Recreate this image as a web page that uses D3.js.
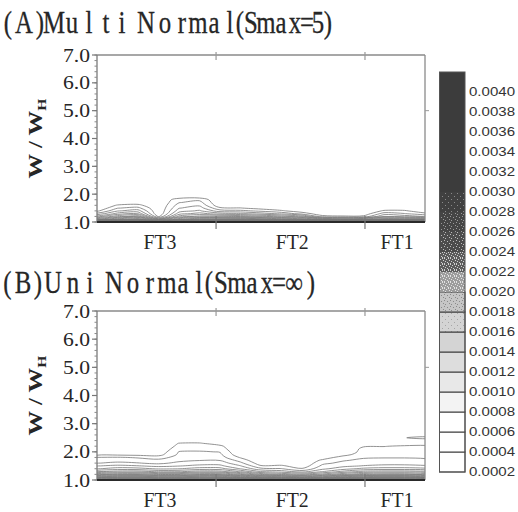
<!DOCTYPE html>
<html><head><meta charset="utf-8">
<script src="https://cdn.jsdelivr.net/npm/d3@7"></script>
<style>html,body{margin:0;padding:0;background:#fff;} svg{display:block;}</style>
</head><body><svg id="chart" width="518" height="512"></svg>
<script>
// ---------------- DATA ----------------
const levels = [0.0002,0.0004,0.0006,0.0008,0.0010,0.0012,0.0014,0.0016,0.0018,0.0020,
                0.0022,0.0024,0.0026,0.0028,0.0030,0.0032,0.0034,0.0036,0.0038,0.0040];
const colorbarLabels = ["0.0002","0.0004","0.0006","0.0008","0.0010","0.0012","0.0014","0.0016","0.0018","0.0020",
                        "0.0022","0.0024","0.0026","0.0028","0.0030","0.0032","0.0034","0.0036","0.0038","0.0040"];
const colorbarTop = 0.0042;
const yTickValues = [1,2,3,4,5,6,7];
const yTickLabels = ["1.0","2.0","3.0","4.0","5.0","6.0","7.0"];
const xCategories = ["FT3","FT2","FT1"];
const xCategoryCenters = [19.2, 59.5, 91.5];
const xRegionBounds = [36.3, 81.7];
const densityUnit = 1e-4;
const xCols = [0,6.25,12.5,18.75,25,31.25,37.5,43.75,50,56.25,62.5,68.75,75,81.25,87.5,93.75,100];
const rowsA = [1.0,1.1,1.2,1.3,1.4,1.5,1.6,1.7,1.8,1.9,2.0,2.1];
// panel A density, one array per x column, values at rowsA (units of 1e-4)
const densityA = [
  [35,15.5,8.7,4.5,1.5,0,0,0,0,0,0,0],
  [41,21,13.3,8.7,5.8,3.9,2.2,0.6,0,0,0,0],
  [43,23.5,15.2,9.7,6.9,4.6,2.6,0.8,0,0,0,0],
  [29,9.5,1.5,0,0,0,0,0,0,0,0,0],
  [37,19.5,12.7,9.1,7.1,5.9,4.9,3.9,3.2,0.8,0,0],
  [41,23,14.6,10.7,8.3,6.9,5.7,4.7,3.6,1.0,0,0],
  [43,23,14.5,8.9,4.9,2.4,0.5,0,0,0,0,0],
  [42.5,23.3,13.6,8.3,4.5,2.1,0.4,0,0,0,0,0],
  [41,21.5,12.5,6.9,3.5,1.2,0,0,0,0,0,0],
  [39,19.3,10.7,5.5,2.3,0.5,0,0,0,0,0,0],
  [37,17.3,8.8,3.1,0.8,0,0,0,0,0,0,0],
  [35,13.3,2.7,0.6,0,0,0,0,0,0,0,0],
  [33,11.5,2.3,0.4,0,0,0,0,0,0,0,0],
  [35,12.7,2.5,0.5,0,0,0,0,0,0,0,0],
  [39,15.7,7.9,4.9,2.3,0.5,0,0,0,0,0,0],
  [39,15.5,7.1,4.1,2.3,0.5,0,0,0,0,0,0],
  [37,14.7,5.9,2.5,0.6,0,0,0,0,0,0,0]
];
const rowsB = [1.0,1.1,1.2,1.3,1.4,1.5,1.6,1.7,1.8,1.9,2.0,2.1,2.2,2.3,2.4,2.5,2.6,2.7];
const densityB = [
  [43,29.3,19.5,13.7,9.8,7.9,5.9,4.9,4.1,1.5,0,0,0,0,0,0,0,0],
  [45,31,21.3,14.7,10.9,8.5,6.5,5.1,4.2,1.6,0,0,0,0,0,0,0,0],
  [45,31.5,21.5,14.9,10.7,8.1,6.1,4.9,3.8,1.4,0,0,0,0,0,0,0,0],
  [43,29.5,19.7,13.5,9.7,7.5,5.5,4.5,3.2,1.2,0.5,0.3,0,0,0,0,0,0],
  [43,29.3,19.6,13.7,9.9,7.9,6.5,5.5,4.8,4.4,4.1,3.2,2.6,2.1,0.8,0,0,0],
  [45,31.3,21.5,14.9,10.9,8.5,7.1,5.9,5.1,4.6,4.2,3.4,2.8,2.2,0.9,0,0,0],
  [45,31,21.3,14.7,10.8,8.5,7.1,5.9,4.9,4.4,3.9,3.0,2.4,1.2,0,0,0,0],
  [43,27.5,17.7,11.7,7.9,6.1,4.5,3.2,1.8,0.5,0,0,0,0,0,0,0,0],
  [39,23.5,13.7,7.9,4.5,2.2,0.8,0,0,0,0,0,0,0,0,0,0,0],
  [37,21.5,11.7,6.9,4.1,2.4,0.6,0,0,0,0,0,0,0,0,0,0,0],
  [35,19.5,10.5,5.1,2.2,0.6,0,0,0,0,0,0,0,0,0,0,0,0],
  [37,21.5,12.7,7.9,5.5,4.5,3.5,2.4,0.8,0,0,0,0,0,0,0,0,0],
  [41,25.5,15.7,10.5,7.1,5.5,4.5,3.8,3.0,1.2,0,0,0,0,0,0,0,0],
  [43,27.5,17.7,12.5,8.5,6.1,5.1,4.4,3.8,3.2,2.9,2.6,1.8,0.4,0,0,0,0],
  [45,29.5,18.7,12.9,8.9,6.5,5.2,4.5,3.9,3.3,3.0,2.7,1.9,0.6,0,0,0,0],
  [45,29.7,18.9,12.9,8.9,6.5,5.2,4.5,3.9,3.3,3.0,2.8,2.3,0.7,0.3,1.9,0.4,0],
  [43,27.5,17.7,12.5,8.5,6.2,5.1,4.3,3.8,3.2,2.9,2.7,2.4,1.0,0.5,2.8,0.6,0]
];
const titleA = "(A)Multi Normal(Smax=5)";
const titleB = "(B)Uni Normal(Smax=\u221E)";

// ---------------- LAYOUT / STYLE ----------------
const svg = d3.select("#chart");
const defs = svg.append("defs");
const textColor = "#262626";
const serif = "'Liberation Serif','DejaVu Serif',serif";
const sans = "'Liberation Sans','DejaVu Sans',sans-serif";

const titleGlyphX = {
  A: [8,24,40,54,72,89,106,122,133,146,165,182,198,214,230,240,251,266,281,295,307,318,328],
  B: [7.5,23,38,53,73,90,101,114,133,150,167,183,199,209,221,237,252,267,279,294,311]
};

function drawTitle(str, xs, baseline) {
  const sx = 0.8;
  svg.append("text")
    .attr("transform", `scale(${sx},1)`)
    .attr("x", xs.map(v => (v / sx).toFixed(2)).join(" "))
    .attr("y", baseline)
    .attr("text-anchor", "middle")
    .attr("font-family", serif)
    .attr("font-size", 31)
    .attr("stroke", textColor).attr("stroke-width", 0.3)
    .attr("fill", textColor)
    .text(str);
}

function drawPanel(cfg) {
  const x = d3.scaleLinear().domain([0, 100]).range([cfg.left, cfg.right]);
  const y = d3.scaleLinear().domain([1, 7]).range([cfg.bottom, cfg.top]);
  const g = svg.append("g");
  const clipId = "clip" + cfg.id;
  defs.append("clipPath").attr("id", clipId).append("rect")
    .attr("x", cfg.left).attr("y", cfg.top)
    .attr("width", cfg.right - cfg.left).attr("height", cfg.bottom - cfg.top);

  // contours
  const n = xCols.length, m = cfg.rows.length;
  const values = new Array(n * m);
  for (let j = 0; j < m; j++) for (let i = 0; i < n; i++) values[j * n + i] = cfg.density[i][j] * densityUnit;
  const contours = d3.contours().size([n, m]).thresholds(levels)(values);
  const xi = d3.scaleLinear().domain([0.5, n - 0.5]).range([xCols[0], xCols[n - 1]]);
  const yi = d3.scaleLinear().domain([0.5, m - 0.5]).range([cfg.rows[0], cfg.rows[m - 1]]);
  const line = d3.line().x(p => x(xi(p[0]))).y(p => y(yi(p[1]))).curve(d3.curveCatmullRomClosed.alpha(0.5));
  const cg = g.append("g").attr("clip-path", `url(#${clipId})`);
  contours.forEach(c => {
    c.coordinates.forEach(poly => poly.forEach(ring => {
      const pts = ring.slice(0, -1);
      if (pts.length < 3) return;
      cg.append("path").attr("d", line(pts)).attr("fill", "none")
        .attr("stroke", "#767676").attr("stroke-width", 0.8);
    }));
  });

  // frame
  g.append("line").attr("x1", cfg.left).attr("x2", cfg.right).attr("y1", cfg.top).attr("y2", cfg.top)
    .attr("stroke", "#8a8a8a").attr("stroke-width", 1.3);
  g.append("line").attr("x1", cfg.right).attr("x2", cfg.right).attr("y1", cfg.top).attr("y2", cfg.bottom)
    .attr("stroke", "#8a8a8a").attr("stroke-width", 1.3);
  g.append("line").attr("x1", cfg.left).attr("x2", cfg.left).attr("y1", cfg.top).attr("y2", cfg.bottom)
    .attr("stroke", "#7a7a7a").attr("stroke-width", 1.3);
  g.append("line").attr("x1", cfg.left).attr("x2", cfg.right).attr("y1", cfg.bottom).attr("y2", cfg.bottom)
    .attr("stroke", "#2a2a2a").attr("stroke-width", 2);

  // y ticks
  const minor = d3.range(1, 7.001, 0.2);
  minor.forEach(v => g.append("line").attr("x1", cfg.left - 2.5).attr("x2", cfg.left)
    .attr("y1", y(v)).attr("y2", y(v)).attr("stroke", "#8a8a8a").attr("stroke-width", 1));
  yTickValues.forEach((v, k) => {
    g.append("line").attr("x1", cfg.left - 5).attr("x2", cfg.left)
      .attr("y1", y(v)).attr("y2", y(v)).attr("stroke", "#777").attr("stroke-width", 1.2);
    g.append("text").attr("x", cfg.left - 7).attr("y", y(v) + 6.5)
      .attr("text-anchor", "end").attr("font-family", serif).attr("font-size", 18.5)
      .attr("textLength", 27).attr("lengthAdjust", "spacingAndGlyphs")
      .attr("fill", textColor).text(yTickLabels[k]);
  });
  // right tick at 5.0
  g.append("line").attr("x1", cfg.right).attr("x2", cfg.right + 4)
    .attr("y1", y(5)).attr("y2", y(5)).attr("stroke", "#999").attr("stroke-width", 1);

  // x region ticks
  xRegionBounds.forEach(v => {
    g.append("line").attr("x1", x(v)).attr("x2", x(v)).attr("y1", cfg.top - 3).attr("y2", cfg.top + 5)
      .attr("stroke", "#999").attr("stroke-width", 1.2);
    g.append("line").attr("x1", x(v)).attr("x2", x(v)).attr("y1", cfg.bottom - 6).attr("y2", cfg.bottom + 7)
      .attr("stroke", "#777").attr("stroke-width", 1.2);
  });
  xCategories.forEach((c, k) => {
    g.append("text").attr("x", x(xCategoryCenters[k])).attr("y", cfg.bottom + 27)
      .attr("text-anchor", "middle").attr("font-family", serif).attr("font-size", 21)
      .attr("textLength", 33).attr("lengthAdjust", "spacingAndGlyphs")
      .attr("fill", textColor).text(c);
  });

  // y axis label
  const cy = (cfg.top + cfg.bottom) / 2;
  const yl = g.append("text")
    .attr("transform", `translate(42,${cy}) rotate(-90) scale(1.3,1)`)
    .attr("text-anchor", "middle").attr("font-family", serif).attr("font-weight", "bold")
    .attr("font-size", 19).attr("fill", textColor);
  yl.append("tspan").text("W / W");
  yl.append("tspan").attr("font-size", 12).attr("dy", 4).text("H");

  drawTitle(cfg.title, cfg.titleX, cfg.titleBaseline);
}

drawPanel({id: "A", left: 97, right: 425, top: 55, bottom: 222, rows: rowsA, density: densityA,
           title: titleA, titleX: titleGlyphX.A, titleBaseline: 33});
drawPanel({id: "B", left: 97, right: 425, top: 311, bottom: 480, rows: rowsB, density: densityB,
           title: titleB, titleX: titleGlyphX.B, titleBaseline: 293});

// ---------------- COLORBAR ----------------
function speck(id, base, dot, dots) {
  const p = defs.append("pattern").attr("id", id).attr("patternUnits", "userSpaceOnUse")
    .attr("width", 6).attr("height", 6);
  p.append("rect").attr("width", 6).attr("height", 6).attr("fill", base);
  dots.forEach(([dx, dy]) => p.append("rect").attr("x", dx).attr("y", dy)
    .attr("width", 1).attr("height", 1).attr("fill", dot));
}
const sparse = [[1,1],[4,4]];
const medium = [[0,0],[3,1],[1,4],[5,3]];
const dense = [[0,0],[2,1],[4,0],[1,3],[3,4],[5,2],[0,5],[4,5]];
speck("spk1", "#d4d4d4", "#a6a6a6", sparse);
speck("spk2", "#c6c6c6", "#8a8a8a", medium);
speck("spk3", "#9c9c9c", "#e2e2e2", dense);
speck("spk4", "#5c5c5c", "#d0d0d0", dense);
speck("spk5", "#4c4c4c", "#bcbcbc", medium);
speck("spk6", "#454545", "#9a9a9a", medium);
speck("spk7", "#404040", "#8a8a8a", sparse);
const bandFills = ["#ffffff","#ffffff","#ffffff","#f3f3f3","#e8e8e8","#dddddd","#d4d4d4",
                   "url(#spk1)","url(#spk2)","url(#spk3)","url(#spk4)","url(#spk5)","url(#spk6)","url(#spk7)",
                   "#3c3c3c","#3c3c3c","#3c3c3c","#3c3c3c","#3c3c3c","#3c3c3c"];
const cbLeft = 439.5, cbRight = 465;
const cyS = d3.scaleLinear().domain([levels[0], colorbarTop]).range([472, 72]);
const cb = svg.append("g");
levels.forEach((lv, k) => {
  const hi = k + 1 < levels.length ? levels[k + 1] : colorbarTop;
  cb.append("rect").attr("x", cbLeft).attr("width", cbRight - cbLeft)
    .attr("y", cyS(hi)).attr("height", cyS(lv) - cyS(hi))
    .attr("fill", bandFills[k]).attr("stroke", k < 9 ? "#3a3a3a" : "none").attr("stroke-width", 1);
});
cb.append("rect").attr("x", cbLeft).attr("y", cyS(colorbarTop)).attr("width", cbRight - cbLeft)
  .attr("height", cyS(levels[0]) - cyS(colorbarTop)).attr("fill", "none").attr("stroke", "#555").attr("stroke-width", 1);
levels.forEach((lv, k) => {
  cb.append("text").attr("x", 469).attr("y", cyS(lv) + 4.3)
    .attr("font-family", sans).attr("font-size", 12)
    .attr("textLength", 46).attr("lengthAdjust", "spacingAndGlyphs")
    .attr("fill", "#333").text(colorbarLabels[k]);
});
</script></body></html>
